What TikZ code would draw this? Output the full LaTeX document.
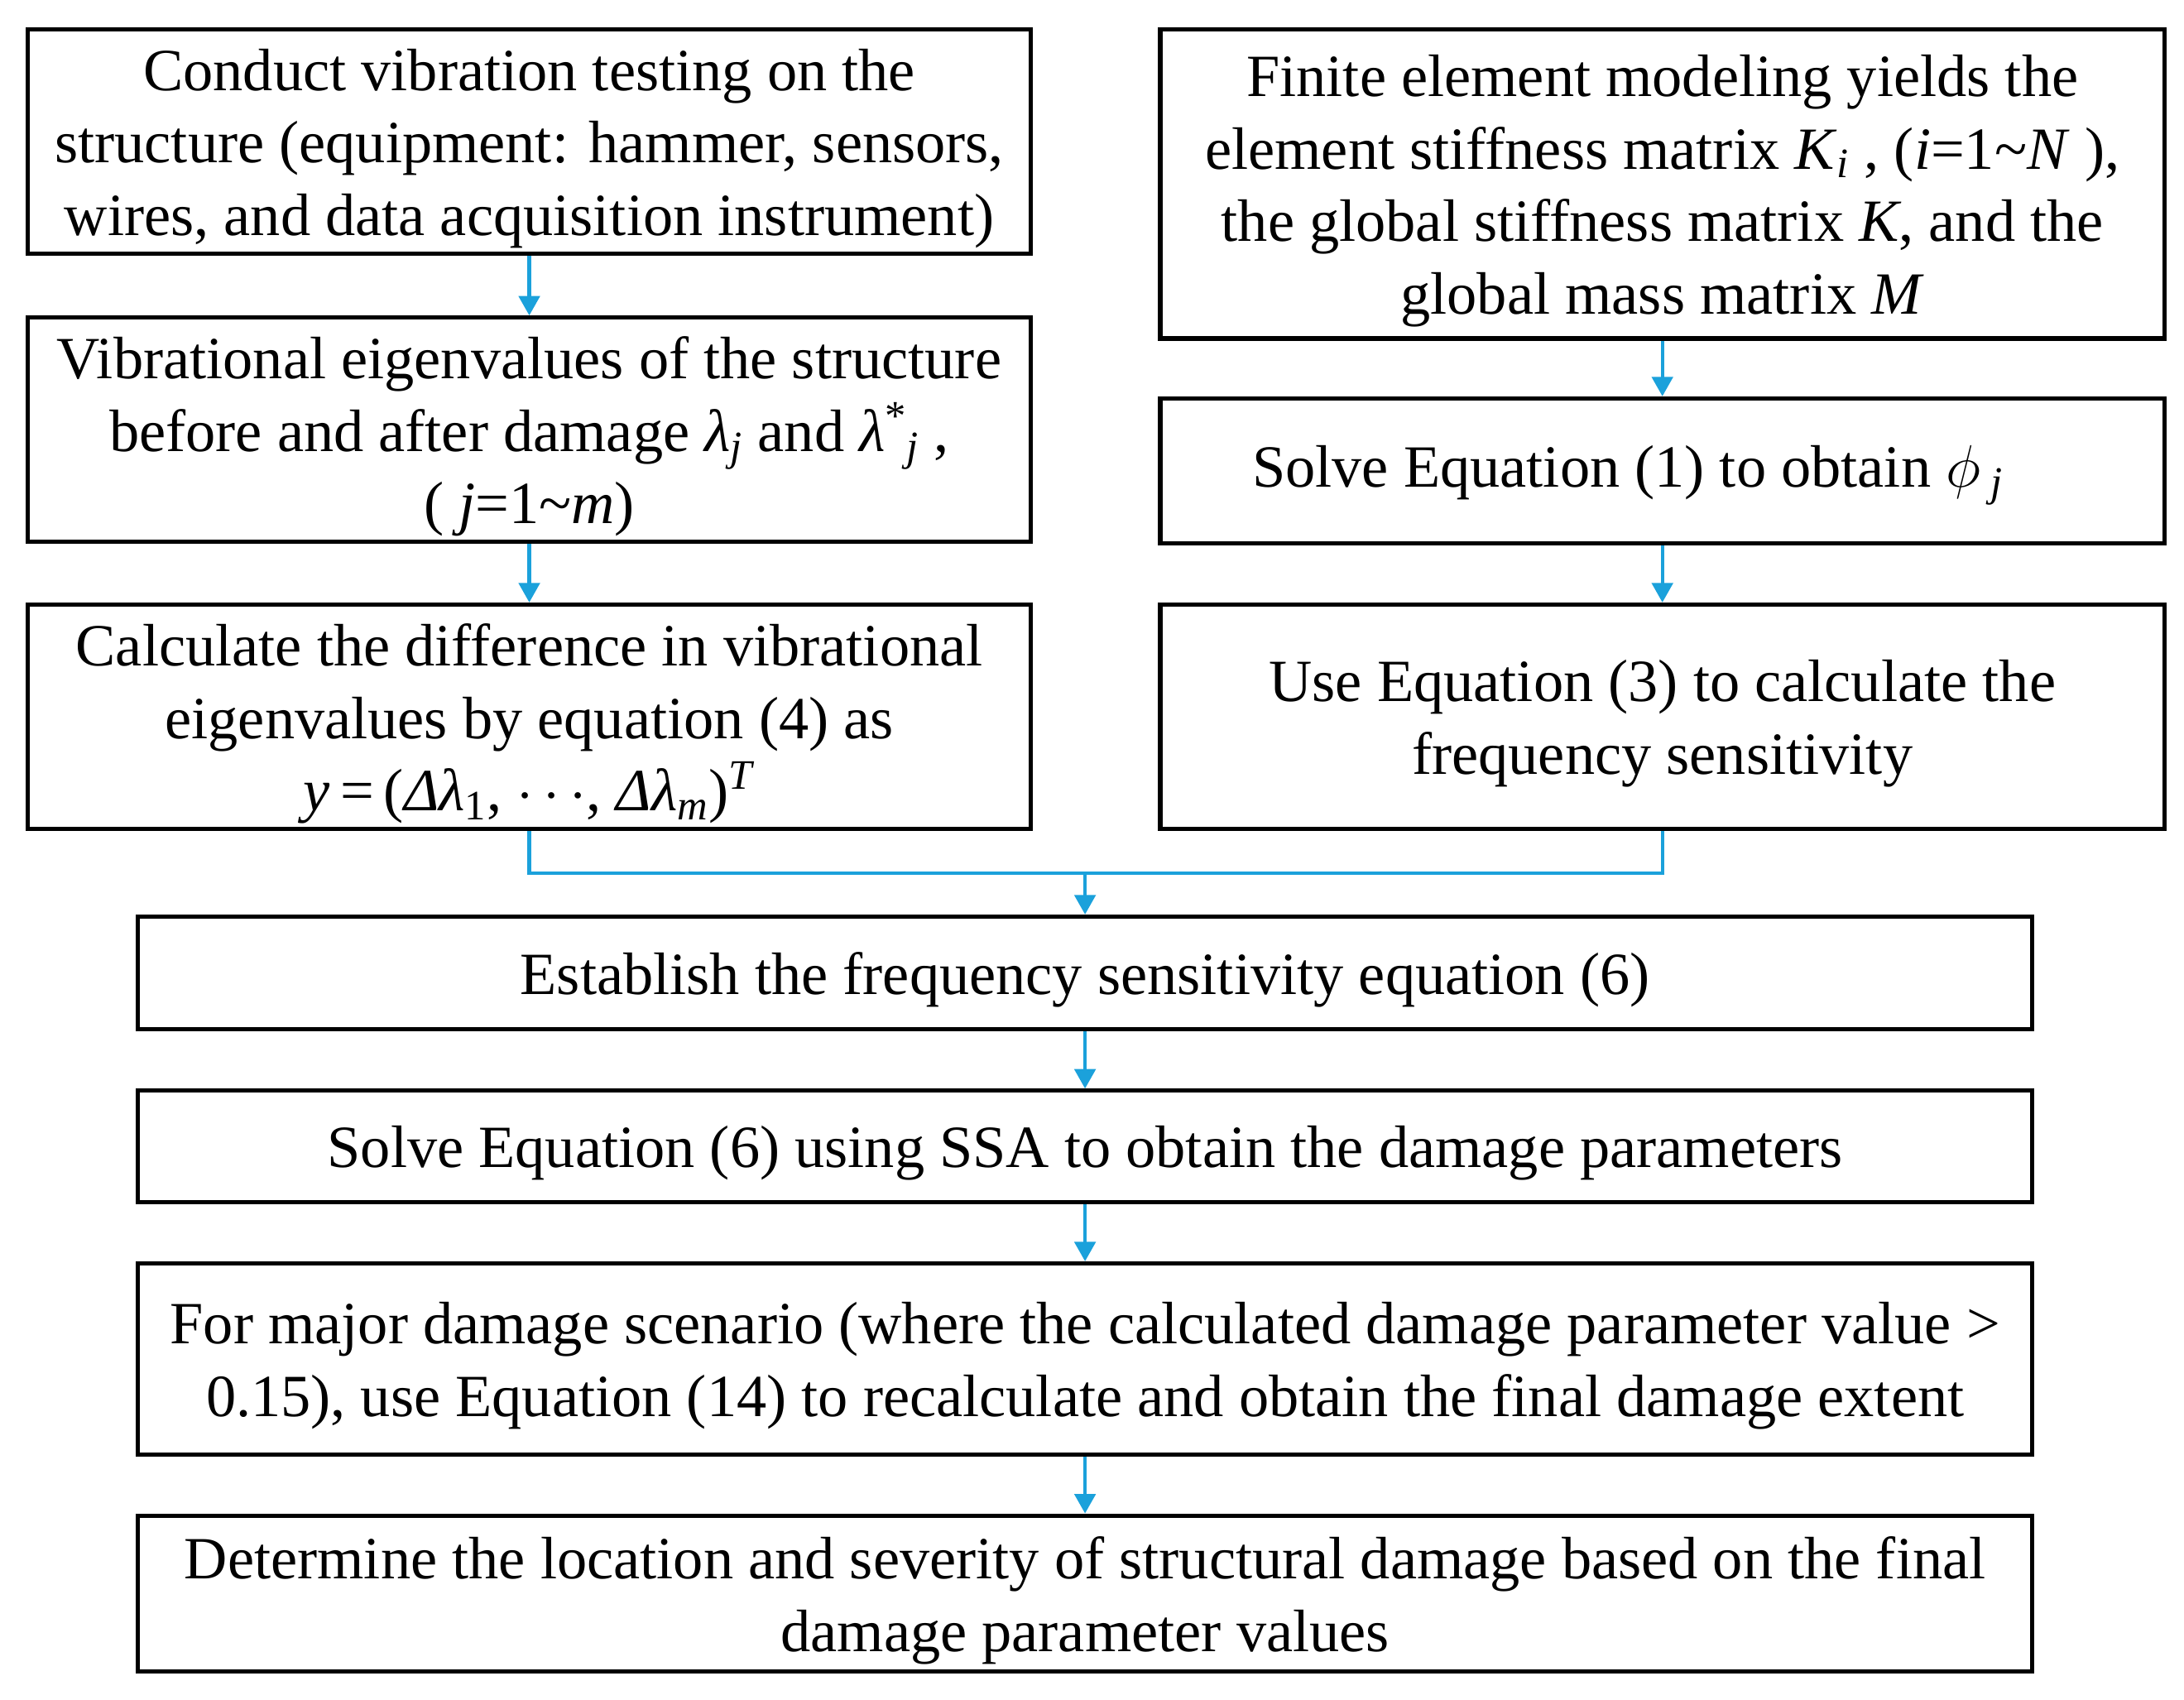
\RequirePackage{fix-cm}
\documentclass[tikz,border=0pt]{standalone}
\usepackage{fontspec}
\setmainfont{Liberation Serif}
\usetikzlibrary{arrows.meta}
\definecolor{arrowblue}{HTML}{1BA1DB}
\newcommand{\vv}[1]{\textit{#1}}
\newcommand{\sbs}[1]{\textsubscript{\textit{#1}}}
\newcommand{\sps}[1]{\textsuperscript{#1}}
\begin{document}
\begin{tikzpicture}[x=1pt,y=-1pt,
  flowbox/.style={draw=black, line width=3pt, rectangle, inner sep=0pt},
  boxtext/.style={inner sep=0pt, align=center, font=\fontsize{43}{52}\selectfont},
  conn/.style={draw=arrowblue, line width=2.6pt, line join=miter},
  connarrow/.style={conn, -{Triangle[width=15pt,length=14pt]}}]
\useasboundingbox (0,0) rectangle (1568,1220);
% left column
\node[flowbox, minimum width=720pt, minimum height=161pt] (L1) at (380,101.5) {};
\node[boxtext] (L1t) at ([yshift=-5pt]L1.center)
  {Conduct vibration testing on the\\structure (equipment: hammer, sensors,\\wires, and data acquisition instrument)};
\node[flowbox, minimum width=720pt, minimum height=161pt] (L2) at (380,308.5) {};
\node[boxtext] (L2t) at ([yshift=-5pt]L2.center)
  {Vibrational eigenvalues of the structure\\before and after damage \vv{λ}\sbs{j} and \vv{λ}\sps{*}\sbs{j} ,\\( \vv{j}=1\textasciitilde\vv{m})};
\node[flowbox, minimum width=720pt, minimum height=161pt] (L3) at (380,514.5) {};
\node[boxtext] (L3t) at ([yshift=-5pt]L3.center)
  {Calculate the difference in vibrational\\eigenvalues by equation (4) as\\\vv{y}\,=\,(\vv{Δλ}\textsubscript{1}, $\cdots$, \vv{Δλ}\sbs{m})\sps{\vv{T}}};
% right column
\node[flowbox, minimum width=721pt, minimum height=222pt] (R1) at (1193.5,132) {};
\node[boxtext] (R1t) at ([yshift=-5pt]R1.center)
  {Finite element modeling yields the\\element stiffness matrix \vv{K}\sbs{i} , (\vv{i}=1\textasciitilde\vv{N} ),\\the global stiffness matrix \vv{K}, and the\\global mass matrix \vv{M}};
\node[flowbox, minimum width=721pt, minimum height=104pt] (R2) at (1193.5,338) {};
\node[boxtext] (R2t) at ([xshift=-25pt,yshift=-3pt]R2.center)
  {Solve Equation (1) to obtain $\phi$\,\sbs{j}};
\node[flowbox, minimum width=721pt, minimum height=161pt] (R3) at (1193.5,514.5) {};
\node[boxtext] (R3t) at ([yshift=-5pt]R3.center)
  {Use Equation (3) to calculate the\\frequency sensitivity};
% bottom column
\node[flowbox, minimum width=1360pt, minimum height=81pt] (B4) at (779,698.5) {};
\node[boxtext] (B4t) at ([yshift=-5pt]B4.center)
  {Establish the frequency sensitivity equation (6)};
\node[flowbox, minimum width=1360pt, minimum height=80pt] (B5) at (779,823) {};
\node[boxtext] (B5t) at ([yshift=-5pt]B5.center)
  {Solve Equation (6) using SSA to obtain the damage parameters};
\node[flowbox, minimum width=1360pt, minimum height=137pt] (B6) at (779,975.5) {};
\node[boxtext] (B6t) at ([yshift=-5pt]B6.center)
  {For major damage scenario (where the calculated damage parameter value >\\0.15), use Equation (14) to recalculate and obtain the final damage extent};
\node[flowbox, minimum width=1360pt, minimum height=112pt] (B7) at (779,1144) {};
\node[boxtext] (B7t) at ([yshift=-5pt]B7.center)
  {Determine the location and severity of structural damage based on the final\\damage parameter values};
% connectors
\coordinate (mj) at (779,627);
\draw[connarrow] (L1.south) -- (L2.north);
\draw[connarrow] (L2.south) -- (L3.north);
\draw[connarrow] (R1.south) -- (R2.north);
\draw[connarrow] (R2.south) -- (R3.north);
\draw[conn] (L3.south) |- (mj);
\draw[conn] (R3.south) |- (mj);
\draw[connarrow] (mj) -- (B4.north);
\draw[connarrow] (B4.south) -- (B5.north);
\draw[connarrow] (B5.south) -- (B6.north);
\draw[connarrow] (B6.south) -- (B7.north);
\end{tikzpicture}
\end{document}
